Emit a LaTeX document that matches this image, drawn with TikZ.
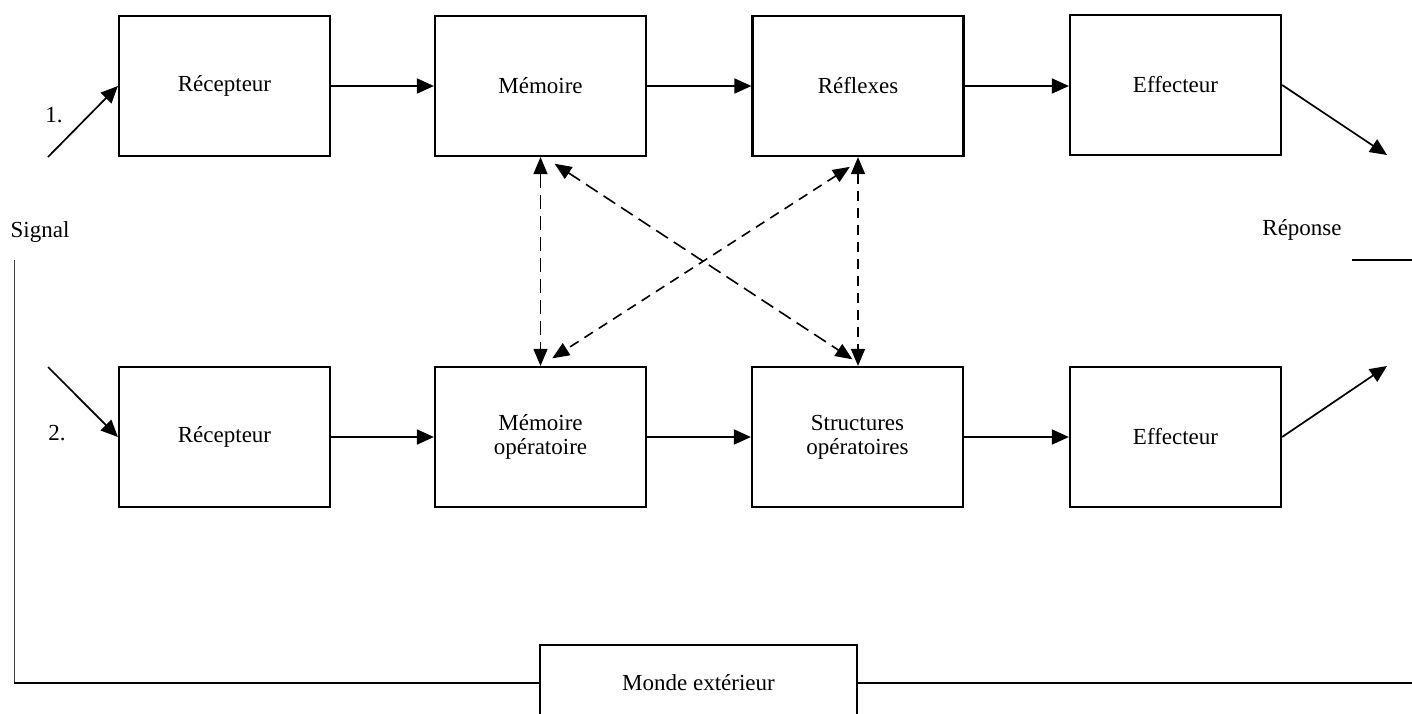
\documentclass[tikz,border=0pt]{standalone}
\usepackage{fontspec}
\setmainfont{Liberation Serif}
\usetikzlibrary{arrows.meta}
\begin{document}
\begin{tikzpicture}[x=0.5pt,y=-0.5pt,
  lbl/.style={font=\fontsize{11.5}{12}\selectfont, inner sep=0pt},
  box/.style={draw, line width=1.1pt, minimum width=105.5pt, minimum height=70pt, inner sep=0pt, align=center, font=\fontsize{11.5}{12}\selectfont},
  arr/.style={-{Triangle[length=8.5pt,width=7.5pt]}, line width=0.85pt},
  darr/.style={{Triangle[length=8.5pt,width=7pt]}-{Triangle[length=8.5pt,width=7pt]}, line width=0.8pt},
  dlong/.style={dash pattern=on 7pt off 3.5pt},
  dshort/.style={dash pattern=on 5pt off 3.5pt}]
\clip (0,0) rectangle (1412,713);
% top row
\node[box] (r1) at (224.5,86) {Récepteur};
\node[box] (m1) at (540.5,86) {Mémoire};
\node[box] (rf1) at (858,86) {Réflexes};
\node[box] (e1) at (1175.5,85) {Effecteur};
% bottom row
\node[box] (r2) at (224.5,437) {Récepteur};
\node[box] (m2) at (540.5,437) {Mémoire\\opératoire};
\node[box] (s2) at (857.5,437) {Structures\\opératoires};
\node[box] (e2) at (1175.5,437) {Effecteur};
% outer world
\node[box, minimum width=158.5pt, minimum height=38pt] (mo) at (698.5,683) {Monde extérieur};
% labels
\node[lbl] (n1) at (54,115) {1.};
\node[lbl] (n2) at (57,433) {2.};
\node[lbl] (sig) at (40,232) {Signal};
\node[lbl] (rep) at (1302,230) {Réponse};
% free ends
\coordinate (in1) at (48,157);
\coordinate (in2) at (48,367);
\coordinate (out1) at (1387,155);
\coordinate (out2) at (1387,366);
\coordinate (sl) at (14,260);
\coordinate (bl) at (14,683);
\coordinate (br) at (1412,683);
\coordinate (ra) at (1352,260);
\coordinate (rb) at (1412,260);
% solid arrows
\draw[arr] (in1) -- (r1.west);
\draw[arr] (r1) -- (m1);
\draw[arr] (m1) -- (rf1);
\draw[arr] (rf1.east) -- (rf1.east -| e1.west);
\draw[arr] (e1.east) -- (out1);
\draw[arr] (in2) -- (r2.west);
\draw[arr] (r2) -- (m2);
\draw[arr] (m2) -- (s2);
\draw[arr] (s2) -- (e2);
\draw[arr] (e2.east) -- (out2);
% dashed links
\draw[darr, dlong] (m1.south) -- (m2.north);
\draw[darr, dshort] (rf1.south) -- (rf1.south |- s2.north);
\draw[darr, dlong, shorten <=6pt, shorten >=6pt] ([xshift=2pt]m1.south) -- ([xshift=2.5pt]s2.north);
\draw[darr, dshort, shorten <=9pt, shorten >=7pt] ([xshift=3.5pt]rf1.south) -- (m2.north);
% outer loop
\draw[line width=0.45pt, black!75] (sl) -- (bl);
\draw[line width=0.9pt] (bl) -- (mo.west);
\draw[line width=0.9pt] (mo.east) -- (br);
\draw[line width=0.9pt] (ra) -- (rb);
\end{tikzpicture}
\end{document}
